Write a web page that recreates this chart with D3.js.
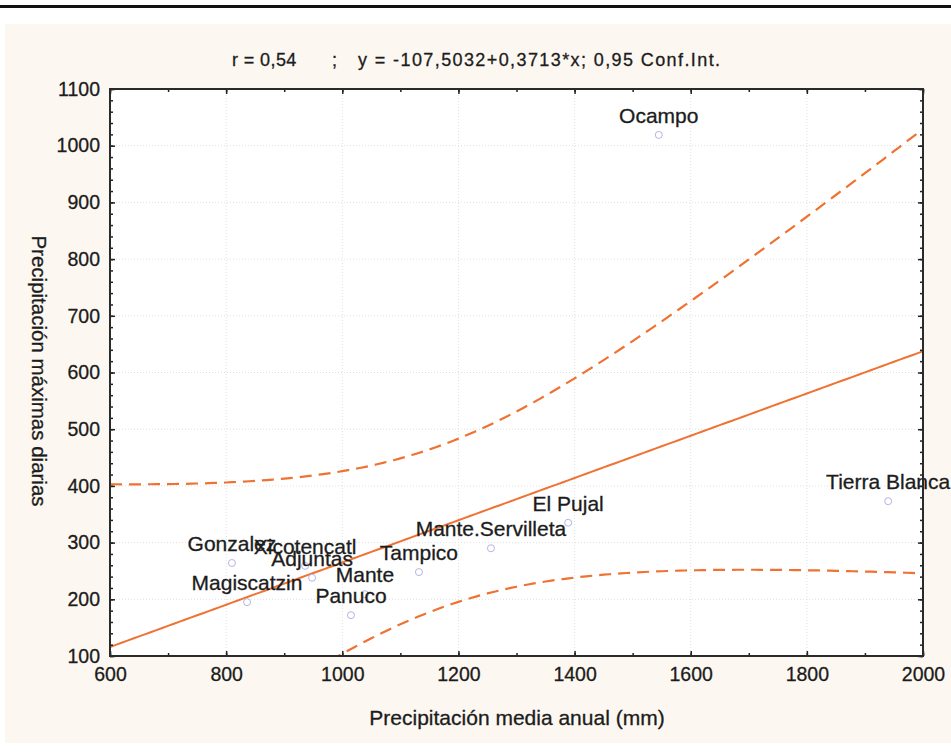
<!DOCTYPE html>
<html><head><meta charset="utf-8">
<script src="https://cdn.jsdelivr.net/npm/d3@7"></script>
<style>
body{margin:0;background:#fff;}
svg{display:block;font-family:"Liberation Sans",Arial,sans-serif;}
svg text{stroke:#1c1c1c;stroke-width:0.3px;}
</style></head>
<body>
<svg id="c" width="951" height="755"></svg>
<script>
// ---- data ----
const stations = ["Gonzalez","Xicotencatl","Adjuntas","Magiscatzin","Mante","Panuco","Tampico","Mante.Servilleta","El Pujal","Ocampo","Tierra Blanca"];
const precipMedia = [810, 936, 948, 836, 1039, 1015, 1132, 1256, 1389, 1545, 1940];
const precipMax   = [264, 259, 238, 195, 209, 172, 248, 290, 335, 1019, 373];
const xTicks = [600,800,1000,1200,1400,1600,1800,2000];
const yTicks = [100,200,300,400,500,600,700,800,900,1000,1100];
const titleParts = ["r = 0,54", ";", "y = -107,5032+0,3713*x; 0,95 Conf.Int."];
const xTitle = "Precipitación media anual (mm)";
const yTitle = "Precipitación máximas diarias";

const svg = d3.select("#c");
const W=951,H=755;
const L=110,R=923,T=89,B=656;
const x = d3.scaleLinear().domain([600,2000]).range([L,R]);
const y = d3.scaleLinear().domain([100,1100]).range([B,T]);
const ink = "#1c1c1c";

// background
svg.append("rect").attr("x",0).attr("y",5).attr("width",W).attr("height",3).attr("fill","#111");
svg.append("rect").attr("x",5).attr("y",24).attr("width",W-5).attr("height",719).attr("fill","#fcf8f1");
svg.append("rect").attr("x",L).attr("y",T).attr("width",R-L).attr("height",B-T).attr("fill","#fff");

// grid
const g = svg.append("g");
g.selectAll(".gx").data(xTicks.slice(1,-1)).enter().append("line")
 .attr("x1",d=>x(d)).attr("x2",d=>x(d)).attr("y1",T).attr("y2",B)
 .attr("stroke","#e0e0e0").attr("stroke-width",1).attr("stroke-dasharray","1,2");
g.selectAll(".gy").data(yTicks.slice(1,-1)).enter().append("line")
 .attr("y1",d=>y(d)).attr("y2",d=>y(d)).attr("x1",L).attr("x2",R)
 .attr("stroke","#e0e0e0").attr("stroke-width",1).attr("stroke-dasharray","1,2");

// regression from data
const n = precipMedia.length;
const mx = d3.mean(precipMedia), my = d3.mean(precipMax);
let sxx=0,sxy=0;
for(let i=0;i<n;i++){sxx+=(precipMedia[i]-mx)**2; sxy+=(precipMedia[i]-mx)*(precipMax[i]-my);}
const b = sxy/sxx, a = my-b*mx;
let sse=0; for(let i=0;i<n;i++){sse+=(precipMax[i]-(a+b*precipMedia[i]))**2;}
const s = Math.sqrt(sse/(n-2));
const tcrit = 2.262; // t(0.975, 9 df)
const xs = d3.range(600,2000.01,10);
const fit = xs.map(v=>[v,a+b*v]);
const hw = v=>tcrit*s*Math.sqrt(1/n+(v-mx)**2/sxx);
const upper = xs.map(v=>[v,a+b*v+hw(v)]);
const lower = xs.map(v=>[v,a+b*v-hw(v)]);

svg.append("clipPath").attr("id","clip").append("rect").attr("x",L).attr("y",T).attr("width",R-L).attr("height",B-T);
const line = d3.line().x(d=>x(d[0])).y(d=>y(d[1]));
const lg = svg.append("g").attr("clip-path","url(#clip)");
const orange="#f07232";
lg.append("path").attr("d",line(fit)).attr("fill","none").attr("stroke",orange).attr("stroke-width",2);
[upper,lower].forEach(dd=>lg.append("path").attr("d",line(dd)).attr("fill","none").attr("stroke",orange).attr("stroke-width",2.2).attr("stroke-dasharray","12,7"));

// points
const pts = stations.map((s,i)=>({name:s,x:precipMedia[i],y:precipMax[i]}));
svg.selectAll(".pt").data(pts).enter().append("circle")
 .attr("cx",d=>x(d.x)).attr("cy",d=>y(d.y)).attr("r",3.5)
 .attr("fill","none").attr("stroke","#b4b4e4").attr("stroke-width",1);
svg.selectAll(".lb").data(pts).enter().append("text")
 .attr("x",d=>x(d.x)).attr("y",d=>y(d.y)-12).attr("text-anchor","middle")
 .attr("font-size",21).attr("fill",ink).text(d=>d.name);

// frame + axes
const xMinor = d3.range(600,2001,100), yMinor = d3.range(100,1101,20);
function ax(gen, tr){ const gg=svg.append("g").attr("transform",tr).call(gen); gg.select(".domain").remove(); gg.selectAll("line").attr("stroke","#222").attr("stroke-width",1.5); return gg;}
ax(d3.axisBottom(x).tickValues(xMinor).tickSize(-3).tickFormat(""),`translate(0,${B})`);
ax(d3.axisTop(x).tickValues(xMinor).tickSize(-3).tickFormat(""),`translate(0,${T})`);
ax(d3.axisLeft(y).tickValues(yMinor).tickSize(-3).tickFormat(""),`translate(${L},0)`);
ax(d3.axisRight(y).tickValues(yMinor).tickSize(-3).tickFormat(""),`translate(${R},0)`);
const xa = ax(d3.axisBottom(x).tickValues(xTicks).tickSize(-5).tickPadding(11).tickFormat(d3.format("d")),`translate(0,${B})`);
ax(d3.axisTop(x).tickValues(xTicks).tickSize(-5).tickFormat(""),`translate(0,${T})`);
const ya = ax(d3.axisLeft(y).tickValues(yTicks).tickSize(-5).tickPadding(10).tickFormat(d3.format("d")),`translate(${L},0)`);
ax(d3.axisRight(y).tickValues(yTicks).tickSize(-5).tickFormat(""),`translate(${R},0)`);
[xa,ya].forEach(gg=>gg.selectAll("text").attr("font-size",19.5).attr("fill",ink).attr("font-family","Liberation Sans, Arial, sans-serif"));
svg.append("rect").attr("x",L).attr("y",T).attr("width",R-L).attr("height",B-T).attr("fill","none").attr("stroke","#2a2a2a").attr("stroke-width",2);

// titles
const tt = svg.append("text").attr("y",66).attr("font-size",18).attr("fill",ink);
tt.append("tspan").attr("x",232).attr("letter-spacing",0.4).text(titleParts[0]);
tt.append("tspan").attr("x",327).text(" " + titleParts[1] + " ");
tt.append("tspan").attr("x",358).attr("letter-spacing",1.4).text(titleParts[2]);
svg.append("text").attr("x",517).attr("y",725).attr("text-anchor","middle").attr("font-size",21).attr("fill",ink).text(xTitle);
svg.append("text").attr("transform",`translate(32,371) rotate(90)`).attr("text-anchor","middle").attr("font-size",20.5).attr("fill",ink).text(yTitle);
</script>
</body></html>
